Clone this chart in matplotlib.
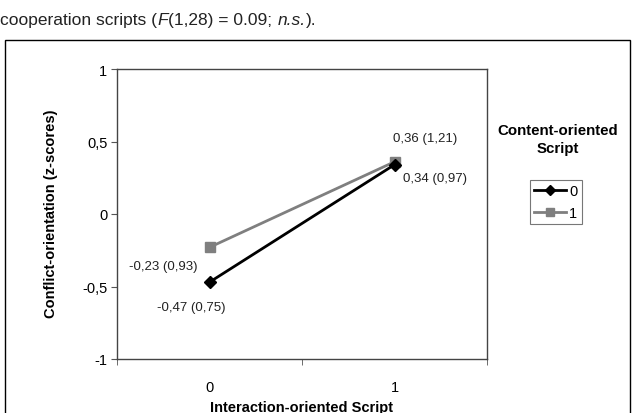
import matplotlib
matplotlib.use("Agg")
import matplotlib.pyplot as plt
from matplotlib.patches import Rectangle

categories = ["0", "1"]
series_names = ["0", "1"]
series0 = [-0.47, 0.34]
series1 = [-0.23, 0.36]
labels0 = ["-0,47 (0,75)", "0,34 (0,97)"]
labels1 = ["-0,23 (0,93)", "0,36 (1,21)"]
yticks = [-1, -0.5, 0, 0.5, 1]
yticklabels = ["-1", "-0,5", "0", "0,5", "1"]

plt.rcParams['font.family'] = ['Liberation Sans', 'DejaVu Sans']

W, H = 634, 414
fig = plt.figure(figsize=(W/100, H/100), dpi=100)

# frame of the embedded chart
fig.patches.append(Rectangle((5/W, -0.05), 625/W, 1 - 41/H + 0.05, transform=fig.transFigure,
                             fill=False, edgecolor='black', linewidth=1.0))

# document text above
fs_doc = 12.5
y_doc = 1 - 25/H
pieces = [("cooperation scripts (", "normal"), ("F", "italic"), ("(1,28) = 0.09; ", "normal"),
          ("n.s.", "italic"), (").", "normal")]
fig.canvas.draw()
r = fig.canvas.get_renderer()
x = 0.0
for txt, st in pieces:
    t = fig.text(x, y_doc, txt, fontsize=fs_doc, style=st, va='baseline', ha='left', color='#222222')
    bb = t.get_window_extent(renderer=r)
    x += (bb.width + (0.8 if st == 'italic' else 0)) / W

ax = fig.add_axes([117/W, 1 - 360/H, 370/W, 290/H])
xs = list(range(len(categories)))
ax.plot(xs, series0, color='black', lw=2.0, marker='D', ms=6.5, label=series_names[0], zorder=3)
ax.plot(xs, series1, color='#7f7f7f', lw=2.0, marker='s', ms=7.5, label=series_names[1], zorder=2)

ax.set_xlim(-0.5, 1.5)
ax.set_ylim(-1, 1)
ax.set_yticks(yticks)
ax.set_yticklabels(yticklabels, fontsize=10.5)
ax.set_xticks(xs)
ax.set_xticklabels(categories, fontsize=10.5)
ax.tick_params(axis='x', length=0, pad=15)
ax.set_xticks([-0.5, 0.5, 1.5], minor=True)
ax.tick_params(axis='x', which='minor', length=4, direction='out', color='#555555')
ax.tick_params(axis='y', length=4, direction='out', color='#555555', pad=3)
for s in ['left', 'bottom', 'top', 'right']:
    ax.spines[s].set_color('#444444')
    ax.spines[s].set_linewidth(1.0)

# value labels
lfs = 9.5
lc = '#222222'
ax.annotate(labels1[0], (xs[0], series1[0]), xytext=(-33, -13.5), textcoords='offset points',
            ha='center', va='center', fontsize=lfs, color=lc)
ax.annotate(labels0[0], (xs[0], series0[0]), xytext=(-13, -18), textcoords='offset points',
            ha='center', va='center', fontsize=lfs, color=lc)
ax.annotate(labels1[1], (xs[1], series1[1]), xytext=(22, 17), textcoords='offset points',
            ha='center', va='center', fontsize=lfs, color=lc)
ax.annotate(labels0[1], (xs[1], series0[1]), xytext=(29.5, -9.5), textcoords='offset points',
            ha='center', va='center', fontsize=lfs, color=lc)

fig.text(51/W, 1 - 214/H, "Conflict-orientation (z-scores)", fontsize=10.5, fontweight='bold',
         ha='center', va='center', rotation=90)
fig.text(302/W, 1 - 408/H, "Interaction-oriented Script", fontsize=10.5, fontweight='bold',
         ha='center', va='center')

fig.text(558/W, 1 - 140/H, "Content-oriented\nScript", fontsize=10.8, fontweight='bold',
         ha='center', va='center', linespacing=1.3)
leg = fig.legend(loc='center', bbox_to_anchor=(556/W, 1 - 203/H), fontsize=10.5, frameon=True,
                 fancybox=False, edgecolor='#555555', handlelength=2.2, handletextpad=0.2,
                 borderpad=0.3, labelspacing=0.55, borderaxespad=0, markerscale=0.8)
leg.get_frame().set_linewidth(0.8)

fig.savefig("out.png", dpi=100)
